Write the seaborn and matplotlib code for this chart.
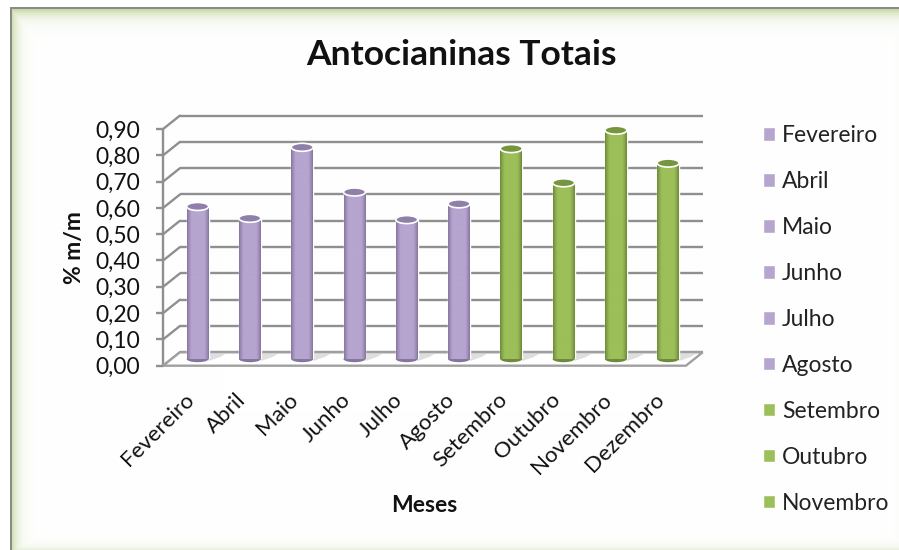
import numpy as np
import pandas as pd
import matplotlib
matplotlib.use("Agg")
import matplotlib.pyplot as plt
import seaborn as sns
from matplotlib.patches import Ellipse, Polygon
from matplotlib.transforms import Affine2D
from matplotlib.colors import to_rgb

months = ["Fevereiro", "Abril", "Maio", "Junho", "Julho", "Agosto",
          "Setembro", "Outubro", "Novembro", "Dezembro"]
values = [0.58, 0.535, 0.805, 0.635, 0.53, 0.59, 0.80, 0.67, 0.87, 0.745]
bar_colors = ["#B5A5CF"] * 6 + ["#9DBF59"] * 4
edge_colors = ["#85759F"] * 6 + ["#6C8A3A"] * 4
top_colors = ["#8F7FA9"] * 6 + ["#76953F"] * 4
yticks = [0.0, 0.1, 0.2, 0.3, 0.4, 0.5, 0.6, 0.7, 0.8, 0.9]
ylabels = ["0,00", "0,10", "0,20", "0,30", "0,40", "0,50", "0,60", "0,70", "0,80", "0,90"]

W, H = 899, 550
FONT = "Lato"
GRID = "#8F8F8F"
DX, DY = 8.4, 6.7   # half depth of the 3D box, in pixels

sns.set_theme(style="white")
plt.rcParams["font.family"] = [FONT, "DejaVu Sans"]
plt.rcParams["text.color"] = "#111111"

fig = plt.figure(figsize=(W / 100, H / 100), dpi=100, facecolor="white")

# frame with soft green glow
bg = fig.add_axes([0, 0, 1, 1], zorder=-5)
yy, xx = np.mgrid[0:H, 0:W]
glow = np.maximum.reduce([
    0.7 * np.exp(-(xx - 12) / 6.0), 0.85 * np.exp(-(yy - 9) / 7.0),
    0.4 * np.exp(-(H - yy) / 4.0), 0.04 * np.exp(-(W - xx) / 8.0)])
green = np.array(to_rgb("#BCD296"))
img = np.ones((H, W, 3)) - glow[..., None] * (1 - green)
img[(xx < 10) | (yy < 7)] = 1.0
img[((xx >= 10) & (xx < 12) & (yy >= 7)) | ((yy >= 7) & (yy < 9) & (xx >= 10))] = to_rgb("#8A8A8A")
bg.imshow(img, aspect="auto", interpolation="nearest")
bg.axis("off")

# main axes are the middle plane of the 3D box
x0, x1 = 171.5, 694.3
y0, y9 = 359.0, 122.3
ax = fig.add_axes([x0 / W, 1 - y0 / H, (x1 - x0) / W, (y0 - y9) / H])
ax.patch.set_alpha(0)

df = pd.DataFrame({"Mes": months, "Valor": values})
sns.barplot(data=df, x="Mes", y="Valor", hue="Mes", order=months, hue_order=months,
            palette=dict(zip(months, bar_colors)), dodge=False, width=0.42,
            saturation=1, legend="brief", ax=ax, zorder=3)
handles, labels = ax.get_legend_handles_labels()
if ax.get_legend():
    ax.get_legend().remove()

ax.set_xlim(-0.5, len(months) - 0.5)
ax.set_ylim(0, 0.9)
to_back = ax.transData + Affine2D().translate(DX, DY)
to_front = ax.transData + Affine2D().translate(-DX, -DY)
lw = 1.7

# back wall grid, side wall and front axis
for v in yticks:
    ax.plot([-0.5, len(months) - 0.5], [v, v], transform=to_back, color=GRID,
            lw=lw, clip_on=False, zorder=1, solid_capstyle="butt")
    ax.plot([-0.5 - DX * 2 / 52.3, -0.5], [v - 2 * DY * 0.9 / (y0 - y9), v],
            transform=to_back, color=GRID, lw=lw, clip_on=False, zorder=1)
    ax.plot([-0.5 - 7 / 52.3, -0.5], [v, v], transform=to_front, color=GRID,
            lw=lw, clip_on=False, zorder=1, solid_capstyle="butt")
ax.plot([-0.5, -0.5], [0, 0.9], transform=to_front, color=GRID, lw=lw, clip_on=False, zorder=1)

# floor
floor = Polygon([(-0.5, 0), (len(months) - 0.5, 0),
                 (len(months) - 0.5 + 2 * DX / 52.3, 2 * DY * 0.9 / (y0 - y9)),
                 (-0.5 + 2 * DX / 52.3, 2 * DY * 0.9 / (y0 - y9))],
                closed=True, facecolor="white", edgecolor="#A0A0A0", lw=lw,
                transform=to_front, clip_on=False, zorder=1.5)
ax.add_patch(floor)

# cylinders
px_y = 0.9 / (y0 - y9)
ell_h = 8 * px_y
for i, cont in enumerate(ax.containers):
    for bar in cont:
        h = bar.get_height()
        if not np.isfinite(h) or h <= 0:
            continue
        l, w = bar.get_x(), bar.get_width()
        t = np.abs(np.linspace(-1, 1, 44))
        c0, c1 = np.array(to_rgb(bar_colors[i])), np.array(to_rgb(edge_colors[i]))
        mix = np.clip((t - 0.55) / 0.45, 0, 1) ** 1.4
        grad = (c0[None, :] * (1 - mix[:, None]) + c1[None, :] * mix[:, None])[None, :, :]
        ax.add_patch(Polygon([(l + w, -2 * px_y), (l + w + 0.22, 2 * px_y),
                              (l + w + 0.32, 5 * px_y), (l + w, 5 * px_y)],
                             closed=True, facecolor="#C8C8C8", edgecolor="none",
                             alpha=0.6, clip_on=False, zorder=2))
        ax.add_patch(Ellipse((l + w / 2, 0), w, ell_h * 0.8, facecolor=edge_colors[i],
                             edgecolor="none", clip_on=False, zorder=2.8))
        im = ax.imshow(grad, extent=[l, l + w, 0, h], aspect="auto", zorder=3.2,
                       interpolation="bilinear")
        ax.add_patch(Ellipse((l + w / 2, h), w, ell_h, facecolor=top_colors[i],
                             edgecolor="white", lw=1.2, clip_on=False, zorder=3.4))
ax.set_xlim(-0.5, len(months) - 0.5)
ax.set_ylim(0, 0.9)

# ticks
ax.set_yticks(yticks)
ax.set_yticklabels(ylabels, fontsize=16.5, color="#111111", family=FONT)
ax.tick_params(axis="y", length=0, pad=22.5)
for lab in ax.get_yticklabels():
    lab.set_transform(lab.get_transform() + Affine2D().translate(0, -DY))
ax.set_xticks(range(len(months)))
ax.set_xticklabels(months, rotation=45, ha="right", rotation_mode="anchor",
                   fontsize=16, color="#111111", family=FONT)
ax.tick_params(axis="x", length=0, pad=22)
for lab in ax.get_xticklabels():
    lab.set_transform(lab.get_transform() + Affine2D().translate(-14, 0))
ax.set_xlabel("")
ax.set_ylabel("")
sns.despine(ax=ax, left=True, bottom=True)
ax.grid(False)

fig.text(461 / W, 1 - 55 / H, "Antocianinas Totais", fontsize=25.5, fontweight="bold",
         ha="center", va="center", color="#111111")
fig.text(424 / W, 1 - 505 / H, "Meses", fontsize=16.5, fontweight="bold",
         ha="center", va="center", color="#111111")
fig.text(75 / W, 1 - 248 / H, "% m/m", fontsize=16.5, fontweight="bold", rotation=90,
         ha="center", va="center", color="#111111")

fs = 16.5
fig.legend(handles[:9], labels[:9], loc="upper left",
           bbox_to_anchor=(763 / W, 1 - 125 / H), frameon=False, fontsize=fs,
           handlelength=12 * 0.72 / fs, handleheight=12 * 0.72 / fs,
           handletextpad=7 * 0.72 / fs, labelspacing=1.09,
           borderpad=0, borderaxespad=0, labelcolor="#222222")

fig.savefig("out.png", dpi=100, facecolor="white")
